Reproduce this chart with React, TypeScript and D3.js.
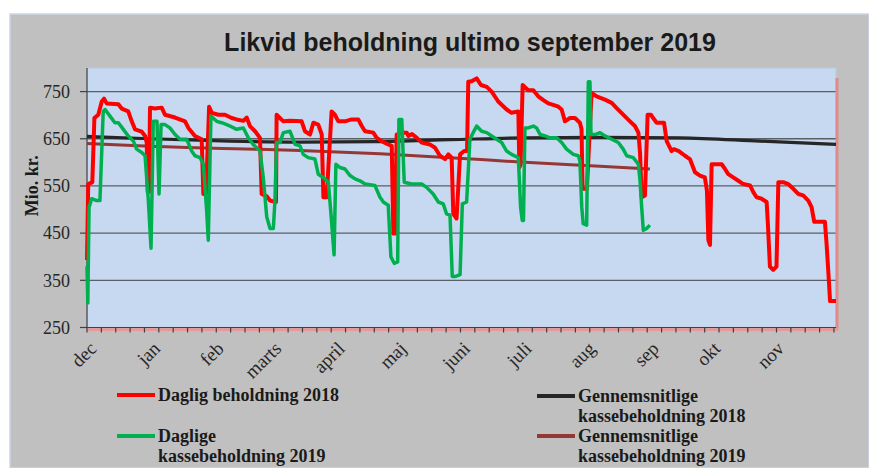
import React from 'react';
import * as d3 from 'd3';

type Pt = [number, number];

// day index from 1 Dec, value in Mio. kr.
const daily2018: Pt[] = [
  [0, 393], [0.6, 554], [2.6, 558], [3.6, 694], [5.5, 701], [7.2, 729], [8.3, 735], [9.6, 725],
  [15.3, 723], [16.9, 714], [20.1, 708], [21.8, 687], [23.4, 670], [26.7, 665], [28.3, 656],
  [29.1, 642], [29.6, 537], [30.2, 537], [30.7, 716], [33.1, 714], [36.4, 716], [38.0, 701],
  [42.9, 695], [47.8, 687], [49.4, 673], [52.6, 656], [55.9, 649], [56.7, 533], [58.0, 533],
  [59.5, 718], [60.8, 705], [64.0, 701], [67.2, 701], [70.5, 694], [72.9, 691], [76.2, 688],
  [77.8, 695], [79.4, 677], [81.9, 666], [84.3, 652], [85.1, 533], [87.6, 528], [89.2, 519],
  [92.1, 516], [92.4, 701], [95.7, 687], [98.9, 688], [104.6, 687], [106.2, 666], [108.7, 659],
  [110.3, 684], [112.7, 680], [114.4, 659], [115.2, 526], [116.8, 526], [119.2, 708], [120.8, 701],
  [122.5, 687], [125.7, 687], [129.0, 691], [132.2, 691], [133.9, 677], [135.5, 666], [139.5, 663],
  [141.2, 652], [143.6, 645], [146.8, 638], [148.5, 635], [149.3, 449], [150.1, 449], [150.9, 659],
  [153.4, 663], [155.8, 663], [156.6, 656], [158.4, 660], [160.7, 652], [163.1, 642], [167.1, 638],
  [169.6, 631], [172.0, 614], [174.5, 607], [176.1, 617], [177.7, 610], [178.5, 491], [180.1, 481],
  [181.8, 617], [183.8, 624], [185.2, 624], [185.8, 771], [187.4, 772], [189.9, 778], [192.0, 764],
  [194.8, 760], [197.2, 750], [200.4, 729], [204.5, 712], [206.9, 705], [210.2, 708], [210.7, 589],
  [211.3, 595], [212.3, 764], [215.0, 753], [217.5, 753], [219.9, 740], [222.4, 732], [224.8, 725],
  [227.2, 722], [229.7, 718], [231.3, 712], [232.9, 687], [235.4, 694], [237.8, 694], [240.2, 684],
  [241.0, 670], [241.5, 544], [243.6, 544], [245.9, 747], [248.3, 740], [252.4, 733], [255.7, 726],
  [258.1, 715], [261.3, 701], [264.6, 687], [267.0, 677], [268.7, 663], [269.5, 620], [270.3, 526],
  [271.9, 530], [273.2, 701], [274.8, 701], [275.9, 694], [277.6, 684], [280.0, 684], [281.2, 684],
  [282.5, 645], [284.9, 624], [286.0, 628], [288.4, 624], [291.4, 614], [293.8, 607], [296.3, 579],
  [298.7, 572], [301.1, 568], [302.1, 540], [302.8, 435], [303.6, 425], [304.4, 596], [306.8, 596],
  [309.3, 596], [310.9, 586], [312.5, 575], [314.9, 568], [317.4, 561], [319.8, 554], [323.1, 551],
  [324.7, 537], [326.3, 526], [328.7, 523], [331.2, 516], [331.8, 470], [332.8, 379], [334.4, 372],
  [336.0, 379], [336.9, 558], [339.3, 558], [341.7, 554], [344.2, 544], [346.6, 533], [349.0, 530],
  [351.5, 519], [353.1, 505], [354.4, 474], [359.6, 474], [360.4, 428], [361.6, 344], [362.1, 306],
  [365, 306],
];

const daily2019: Pt[] = [
  [0, 380], [0.4, 302], [1.0, 505], [2.3, 523], [4.7, 519], [6.3, 519], [7.9, 708], [8.8, 712],
  [11.2, 698], [13.6, 684], [15.3, 684], [17.7, 670], [20.1, 656], [22.6, 645], [24.2, 628],
  [26.7, 621], [28.3, 614], [29.9, 519], [31.2, 418], [32.3, 687], [34.1, 687], [35.1, 533],
  [36.1, 680], [38.0, 680], [40.4, 673], [42.9, 659], [45.3, 649], [48.6, 649], [51.0, 624],
  [52.6, 614], [55.1, 610], [56.7, 596], [58.3, 498], [59.1, 435], [60.4, 698], [63.2, 687],
  [65.6, 684], [68.1, 680], [69.7, 677], [72.9, 670], [76.2, 673], [78.6, 652], [81.0, 638],
  [84.3, 624], [85.9, 568], [87.6, 484], [89.2, 460], [90.8, 460], [91.6, 519], [92.4, 642],
  [94.0, 642], [95.7, 663], [98.9, 666], [101.4, 638], [103.8, 635], [105.4, 617], [107.8, 610],
  [111.1, 607], [112.7, 575], [115.2, 568], [117.6, 558], [119.1, 480], [120.4, 404], [121.3, 596],
  [123.3, 589], [125.7, 586], [128.2, 572], [130.6, 565], [133.0, 561], [135.5, 554], [140.3, 551],
  [142.8, 526], [144.4, 516], [146.8, 509], [148.1, 400], [149.7, 386], [151.4, 389], [152.0, 691],
  [153.4, 691], [154.6, 558], [158.2, 554], [163.1, 554], [165.5, 547], [168.7, 533], [171.2, 516],
  [173.6, 512], [175.2, 491], [176.9, 488], [178.0, 358], [179.3, 358], [181.8, 362], [182.9, 512],
  [185.0, 516], [186.6, 649], [188.2, 663], [189.9, 677], [192.3, 666], [194.8, 663], [197.2, 656],
  [199.6, 649], [202.1, 642], [204.5, 624], [206.9, 617], [210.2, 610], [211.3, 505], [212.1, 477],
  [212.7, 477], [213.4, 673], [215.0, 673], [217.5, 677], [219.1, 673], [220.8, 659], [223.2, 656],
  [225.6, 652], [228.9, 652], [231.3, 642], [233.7, 628], [237.0, 617], [239.4, 614], [240.2, 603],
  [241.1, 505], [241.8, 470], [243.5, 467], [244.3, 771], [245.1, 771], [245.6, 659], [247.6, 659],
  [250.0, 663], [252.4, 656], [255.7, 649], [258.9, 642], [261.3, 628], [263.0, 614], [266.2, 610],
  [268.7, 596], [269.5, 561], [270.3, 505], [271.1, 456], [272.7, 460], [274.3, 467],
];

const avg2018: Pt[] = [
  [0, 655], [30.7, 650], [69.7, 645], [103.8, 643], [140.3, 644], [176.9, 648], [213.4, 652],
  [250, 653], [289, 652], [328, 645], [365, 638],
];

const avg2019: Pt[] = [
  [0, 640], [30.7, 634], [72.1, 629], [103.8, 625], [142.8, 618], [176.9, 610], [213.4, 600],
  [250, 592], [274.3, 586],
];

const monthLabels = ['dec', 'jan', 'feb', 'marts', 'april', 'maj', 'juni', 'juli', 'aug', 'sep', 'okt', 'nov'];
const monthStarts = [0, 31, 62, 90, 121, 151, 182, 212, 243, 274, 304, 335];
const yTicks = [250, 350, 450, 550, 650, 750];

const W = 869;
const H = 468;
const left = 87, right = 836, top = 68, bottom = 327.5;

const serif = '"Liberation Serif", "Times New Roman", serif';

const App: React.FC = () => {
  const x = d3.scaleLinear().domain([0, 365]).range([left, right]);
  const y = d3.scaleLinear().domain([250, 800]).range([bottom, top]);

  const line = d3.line<Pt>().x(d => x(d[0])).y(d => y(d[1]));
  const smooth = d3.line<Pt>().x(d => x(d[0])).y(d => y(d[1])).curve(d3.curveMonotoneX);

  const weeks = d3.range(0, 366, 7);

  const legend = [
    { color: '#ff0000', lx: 117, ly: 395, lines: ['Daglig beholdning 2018'] },
    { color: '#00b050', lx: 117, ly: 436, lines: ['Daglige', 'kassebeholdning 2019'] },
    { color: '#262626', lx: 537, ly: 396, lines: ['Gennemsnitlige', 'kassebeholdning 2018'] },
    { color: '#953735', lx: 537, ly: 436, lines: ['Gennemsnitlige', 'kassebeholdning 2019'] },
  ];

  return (
    <svg width={W} height={H} style={{ position: 'absolute', left: 0, top: 0 }}>
      <rect x={0} y={0} width={W} height={H} fill="#ffffff" />
      <rect x={10} y={14} width={W - 10} height={H - 14} fill="#c0c0c0" stroke="#cdd6e6" strokeWidth={1.5} />

      <text x={470} y={51} textAnchor="middle" fontFamily='"Liberation Sans", Arial, sans-serif'
        fontWeight="bold" fontSize={25} fill="#1a1a1a">
        Likvid beholdning ultimo september 2019
      </text>

      {/* plot area */}
      <rect x={left} y={top} width={right - left} height={bottom - top} fill="#c6d9f0" stroke="#b8c9e0" />

      {yTicks.filter(t => t > 250).map(t => (
        <line key={t} x1={left} x2={right} y1={y(t)} y2={y(t)} stroke="#5a5f66" strokeWidth={1.3} />
      ))}

      {/* right edge / bottom tint */}
      <line x1={right + 1} x2={right + 1} y1={top + 10} y2={bottom + 2} stroke="#e08a8a" strokeWidth={3} />
      <line x1={left} x2={right + 2} y1={bottom + 2} y2={bottom + 2} stroke="#e39a9a" strokeWidth={3} />

      {/* y axis */}
      <line x1={left} x2={left} y1={top} y2={bottom} stroke="#404040" strokeWidth={1.2} />
      {yTicks.map(t => (
        <g key={t}>
          <line x1={left - 7} x2={left} y1={y(t)} y2={y(t)} stroke="#404040" strokeWidth={1.2} />
          <text x={70} y={y(t)} dy="0.35em" textAnchor="end" fontFamily={serif} fontSize={18} fill="#262626">{t}</text>
        </g>
      ))}
      <text transform={`translate(38, ${(top + bottom) / 2 - 12}) rotate(-90)`} textAnchor="middle"
        fontFamily={serif} fontWeight="bold" fontSize={18} fill="#1a1a1a">Mio. kr.</text>

      {/* x axis */}
      <line x1={left} x2={right} y1={bottom} y2={bottom} stroke="#404040" strokeWidth={1.2} />
      {weeks.map(w => (
        <line key={w} x1={x(w)} x2={x(w)} y1={bottom} y2={bottom + 5} stroke="#404040" strokeWidth={1.2} />
      ))}
      {monthLabels.map((m, i) => (
        <text key={m} transform={`translate(${x(monthStarts[i]) + 6}, 345) rotate(-45)`} textAnchor="end"
          dy="0.35em" fontFamily={serif} fontSize={19} fill="#262626">{m}</text>
      ))}

      {/* series */}
      <path d={smooth(avg2018) || ''} fill="none" stroke="#262626" strokeWidth={3.2} />
      <path d={smooth(avg2019) || ''} fill="none" stroke="#953735" strokeWidth={3} />
      <path d={line(daily2018) || ''} fill="none" stroke="#ff0000" strokeWidth={4} strokeLinejoin="round" />
      <path d={line(daily2019) || ''} fill="none" stroke="#00b050" strokeWidth={3.5} strokeLinejoin="round" />

      {/* legend */}
      {legend.map((l, i) => (
        <g key={i}>
          <line x1={l.lx} x2={l.lx + 38} y1={l.ly} y2={l.ly} stroke={l.color} strokeWidth={4} />
          {l.lines.map((s, j) => (
            <text key={j} x={l.lx + 41} y={l.ly + 6 + j * 20} fontFamily={serif} fontWeight="bold"
              fontSize={18} fill="#1a1a1a">{s}</text>
          ))}
        </g>
      ))}
    </svg>
  );
};

export default App;
